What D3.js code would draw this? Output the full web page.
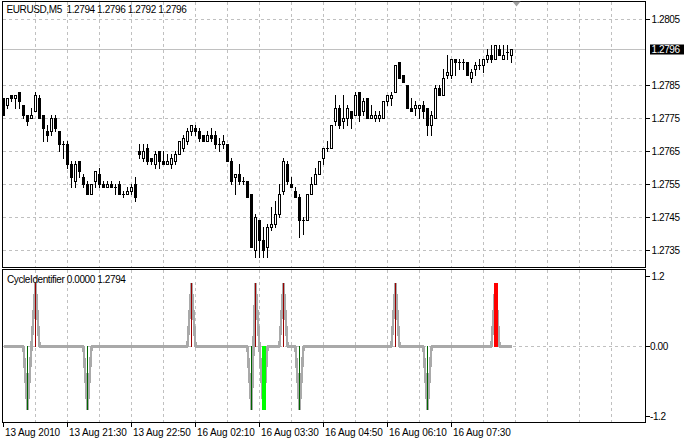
<!DOCTYPE html>
<html><head><meta charset="utf-8">
<script src="https://cdn.jsdelivr.net/npm/d3@7"></script>
<style>
html,body{margin:0;padding:0;background:#fff;}
svg{display:block;}
text{font-family:"Liberation Sans",Arial,sans-serif;font-size:10px;fill:#000;}
</style></head><body>
<svg id="chart" width="684" height="439"></svg>
<script>
// ---------- data ----------
const chartTitle = "EURUSD,M5";
const lastBar = ["1.2794", "1.2796", "1.2792", "1.2796"];
const indicatorTitle = "CycleIdentifier 0.0000 1.2794";
const bidPrice = 1.2796;

const opens = [1.2781,1.2779,1.2782,1.2781,1.2783,1.2779,1.2776,1.2775,1.2777,1.2781,
1.2776,1.2771,1.2771,1.2775,1.2771,1.2767,1.2767,1.2761,1.2756,1.2762,
1.2757,1.2755,1.2752,1.2756,1.2758,1.2755,1.2754,1.2755,1.2754,1.2755,
1.2752,1.2752,1.2753,1.2755,1.2765,1.2763,1.2766,1.2763,1.2761,1.2765,
1.2762,1.2761,1.2761,1.2762,1.2764,1.2766,1.2768,1.2771,1.2772,1.2771,
1.2770,1.2768,1.2770,1.2770,1.2767,1.2767,1.2767,1.2762,1.2757,1.2758,
1.2756,1.2756,1.2752,1.2735,1.2744,1.2738,1.2736,1.2742,1.2743,1.2746,
1.2753,1.2761,1.2755,1.2753,1.2751,1.2744,1.2744,1.2752,1.2755,1.2758,
1.2763,1.2766,1.2766,1.2774,1.2778,1.2774,1.2775,1.2777,1.2776,1.2783,
1.2777,1.2781,1.2775,1.2775,1.2775,1.2775,1.2780,1.2781,1.2783,1.2792,
1.2788,1.2785,1.2778,1.2778,1.2778,1.2779,1.2778,1.2773,1.2775,1.2784,
1.2782,1.2788,1.2788,1.2793,1.2792,1.2792,1.2792,1.2787,1.2790,1.2791,
1.2791,1.2793,1.2794,1.2793,1.2796,1.2793,1.2795,1.2794];

const highs = [1.2781,1.2781,1.2782,1.2782,1.2783,1.2779,1.2776,1.2778,1.2783,1.2782,
1.2776,1.2773,1.2776,1.2776,1.2771,1.2768,1.2768,1.2762,1.2762,1.2762,
1.2758,1.2756,1.2755,1.2759,1.2760,1.2756,1.2756,1.2756,1.2755,1.2756,
1.2753,1.2754,1.2755,1.2757,1.2767,1.2767,1.2767,1.2763,1.2765,1.2765,
1.2765,1.2764,1.2764,1.2765,1.2768,1.2770,1.2772,1.2773,1.2773,1.2772,
1.2770,1.2771,1.2772,1.2771,1.2769,1.2770,1.2767,1.2763,1.2758,1.2761,
1.2757,1.2756,1.2752,1.2746,1.2744,1.2742,1.2743,1.2748,1.2750,1.2755,
1.2763,1.2762,1.2757,1.2754,1.2752,1.2745,1.2752,1.2757,1.2760,1.2762,
1.2766,1.2768,1.2773,1.2782,1.2779,1.2782,1.2779,1.2777,1.2783,1.2783,
1.2781,1.2781,1.2779,1.2777,1.2777,1.2780,1.2782,1.2783,1.2791,1.2792,
1.2788,1.2785,1.2781,1.2780,1.2779,1.2780,1.2778,1.2777,1.2785,1.2785,
1.2790,1.2794,1.2793,1.2793,1.2793,1.2793,1.2792,1.2790,1.2792,1.2793,
1.2793,1.2796,1.2797,1.2797,1.2797,1.2797,1.2797,1.2796];

const lows = [1.2776,1.2778,1.2780,1.2778,1.2778,1.2775,1.2773,1.2775,1.2777,1.2775,
1.2768,1.2768,1.2770,1.2771,1.2765,1.2763,1.2760,1.2754,1.2754,1.2757,
1.2754,1.2752,1.2752,1.2754,1.2754,1.2754,1.2754,1.2754,1.2752,1.2752,
1.2751,1.2752,1.2752,1.2750,1.2763,1.2762,1.2761,1.2761,1.2760,1.2760,
1.2761,1.2761,1.2760,1.2761,1.2764,1.2765,1.2767,1.2770,1.2770,1.2768,
1.2768,1.2768,1.2768,1.2766,1.2765,1.2766,1.2762,1.2755,1.2752,1.2755,
1.2755,1.2751,1.2736,1.2733,1.2733,1.2733,1.2733,1.2741,1.2742,1.2745,
1.2752,1.2755,1.2754,1.2751,1.2739,1.2740,1.2744,1.2752,1.2755,1.2758,
1.2761,1.2765,1.2766,1.2773,1.2772,1.2772,1.2773,1.2772,1.2776,1.2774,
1.2776,1.2775,1.2775,1.2774,1.2774,1.2775,1.2779,1.2779,1.2783,1.2787,
1.2786,1.2778,1.2777,1.2776,1.2775,1.2775,1.2770,1.2770,1.2775,1.2782,
1.2782,1.2787,1.2787,1.2788,1.2790,1.2790,1.2788,1.2786,1.2788,1.2790,
1.2789,1.2792,1.2792,1.2793,1.2794,1.2793,1.2793,1.2792];

const closes = [1.2776,1.2781,1.2781,1.2782,1.2780,1.2776,1.2774,1.2776,1.2782,1.2775,
1.2772,1.2770,1.2775,1.2772,1.2767,1.2767,1.2761,1.2757,1.2761,1.2759,
1.2755,1.2752,1.2755,1.2759,1.2755,1.2754,1.2755,1.2754,1.2754,1.2752,
1.2752,1.2753,1.2754,1.2751,1.2764,1.2765,1.2762,1.2762,1.2764,1.2762,
1.2761,1.2762,1.2763,1.2764,1.2768,1.2769,1.2771,1.2773,1.2771,1.2769,
1.2768,1.2770,1.2769,1.2767,1.2767,1.2768,1.2762,1.2756,1.2758,1.2756,
1.2756,1.2751,1.2736,1.2745,1.2738,1.2735,1.2742,1.2743,1.2746,1.2752,
1.2762,1.2756,1.2754,1.2751,1.2744,1.2744,1.2752,1.2755,1.2758,1.2762,
1.2766,1.2766,1.2773,1.2778,1.2773,1.2775,1.2778,1.2775,1.2782,1.2776,
1.2780,1.2775,1.2776,1.2776,1.2776,1.2780,1.2782,1.2782,1.2791,1.2787,
1.2786,1.2778,1.2777,1.2779,1.2779,1.2777,1.2773,1.2776,1.2784,1.2782,
1.2787,1.2789,1.2793,1.2792,1.2792,1.2792,1.2788,1.2789,1.2791,1.2791,
1.2793,1.2794,1.2793,1.2797,1.2794,1.2794,1.2795,1.2796];

// CycleIdentifier line values (per bar)
const cycleLine = [
0,0,0,0,0,0,-1,0,1,0,0,0,0,0,0,0,
0,0,0,0,0,-1,0,0,0,0,0,0,0,0,0,0,
0,0,0,0,0,0,0,0,0,0,0,0,0,0,0,1,
0,0,0,0,0,0,0,0,0,0,0,0,0,0,-1,1,
0,-1,0,0,0,0,1,0,0,0,-1,0,0,0,0,0,
0,0,0,0,0,0,0,0,0,0,0,0,0,0,0,0,
0,0,1,0,0,0,0,0,0,0,-1,0,0,0,0,0,
0,0,0,0,0,0,0,0,0,0,0,1,0,0,0,0];
const minorUpBars = [8, 47, 63, 70, 98];
const minorDownBars = [6, 21, 62, 74, 106];
const majorUpBars = [123];
const majorDownBars = [65];

const priceTicks = [1.2805, 1.2785, 1.2775, 1.2765, 1.2755, 1.2745, 1.2735];
const indicatorTicks = [1.2, 0, -1.2];
const indicatorTickLabels = ["1.2", "0.00", "-1.2"];
const timeTickIndex = [0, 16, 32, 48, 64, 80, 96, 112];
const timeTickLabels = ["13 Aug 2010", "13 Aug 21:30", "13 Aug 22:50", "16 Aug 02:10",
  "16 Aug 03:30", "16 Aug 04:50", "16 Aug 06:10", "16 Aug 07:30"];

// ---------- layout ----------
const L = 2.5, R = 645.5, mainTop = 1.5, mainBot = 267.5, indTop = 269.5, indBot = 422.5;
const n = opens.length;
const svg = d3.select("#chart");

const x = d3.scaleLinear().domain([0, n - 1]).range([3.5, 3.5 + 4 * (n - 1)]);
const y = d3.scaleLinear().domain([1.2735, 1.2805]).range([250, 19]);
const yi = d3.scaleLinear().domain([-1.2, 1.2]).range([422, 270]);
const py = v => Math.round(y(v)) + 0.5;

svg.append("defs").append("clipPath").attr("id", "clipMain")
  .append("rect").attr("x", L).attr("y", mainTop).attr("width", R - L).attr("height", mainBot - mainTop);
svg.select("defs").append("clipPath").attr("id", "clipInd")
  .append("rect").attr("x", L).attr("y", indTop).attr("width", R - L).attr("height", indBot - indTop);

const gridIdx = d3.range(8, 160, 8);
const gridColor = "#c0c0c0";

// main grid
const gMain = svg.append("g").attr("clip-path", "url(#clipMain)");
gMain.selectAll("line.vg").data(gridIdx).join("line")
  .attr("x1", d => x(d)).attr("x2", d => x(d)).attr("y1", mainTop).attr("y2", mainBot)
  .attr("stroke", gridColor).attr("stroke-dasharray", "3,3").attr("shape-rendering", "crispEdges");
gMain.selectAll("line.hg").data(priceTicks).join("line")
  .attr("x1", L).attr("x2", R).attr("y1", d => py(d)).attr("y2", d => py(d))
  .attr("stroke", gridColor).attr("stroke-dasharray", "3,3").attr("shape-rendering", "crispEdges");
// bid line
gMain.append("line").attr("x1", L).attr("x2", R).attr("y1", py(bidPrice)).attr("y2", py(bidPrice))
  .attr("stroke", gridColor).attr("shape-rendering", "crispEdges");

// candles
const bars = d3.range(n).map(i => ({i, o: opens[i], h: highs[i], l: lows[i], c: closes[i]}));
const cg = gMain.selectAll("g.c").data(bars).join("g").attr("shape-rendering", "crispEdges");
cg.append("line").attr("x1", d => x(d.i)).attr("x2", d => x(d.i))
  .attr("y1", d => Math.round(y(d.h))).attr("y2", d => Math.round(y(d.l)) + 1)
  .attr("stroke", "#000");
cg.each(function(d) {
  const g = d3.select(this);
  const top = Math.round(y(Math.max(d.o, d.c))), bot = Math.round(y(Math.min(d.o, d.c)));
  if (d.c > d.o) {
    g.append("rect").attr("x", x(d.i) - 1).attr("y", top + 0.5).attr("width", 2).attr("height", Math.max(bot - top, 1))
      .attr("fill", "#fff").attr("stroke", "#000");
  } else {
    g.append("rect").attr("x", x(d.i) - 1.5).attr("y", top).attr("width", 3).attr("height", Math.max(bot - top, 0) + 1)
      .attr("fill", "#000");
  }
});

// indicator grid
const gInd = svg.append("g").attr("clip-path", "url(#clipInd)");
gInd.selectAll("line.vg").data(gridIdx).join("line")
  .attr("x1", d => x(d)).attr("x2", d => x(d)).attr("y1", indTop).attr("y2", indBot)
  .attr("stroke", gridColor).attr("stroke-dasharray", "3,3").attr("shape-rendering", "crispEdges");
gInd.append("line").attr("x1", L).attr("x2", R).attr("y1", yi(0) + 0.5).attr("y2", yi(0) + 0.5)
  .attr("stroke", gridColor).attr("stroke-dasharray", "3,3").attr("shape-rendering", "crispEdges");

// indicator line
gInd.append("path").datum(cycleLine)
  .attr("d", d3.line().x((d, i) => x(i)).y(d => yi(d) + 0.5))
  .attr("fill", "none").attr("stroke", "#a9a9a9").attr("stroke-width", 2.6)
  .attr("stroke-linejoin", "bevel").attr("shape-rendering", "crispEdges");

function hist(list, color, w) {
  gInd.append("g").selectAll("rect").data(list).join("rect")
    .attr("x", d => x(d) - w / 2).attr("width", w)
    .attr("y", d => Math.min(yi(cycleLine[d]), yi(0)))
    .attr("height", d => Math.abs(yi(cycleLine[d]) - yi(0)) + 1)
    .attr("fill", color).attr("shape-rendering", "crispEdges");
}
hist(minorUpBars, "#9b0000", 1);
hist(minorDownBars, "#006400", 1);
hist(majorUpBars, "#ff0000", 4);
hist(majorDownBars, "#00ff00", 4);

// frames
svg.append("rect").attr("x", L).attr("y", mainTop).attr("width", R - L).attr("height", mainBot - mainTop)
  .attr("fill", "none").attr("stroke", "#000").attr("shape-rendering", "crispEdges");
svg.append("rect").attr("x", L).attr("y", indTop).attr("width", R - L).attr("height", indBot - indTop)
  .attr("fill", "none").attr("stroke", "#000").attr("shape-rendering", "crispEdges");

// price axis
const pAxis = svg.append("g").attr("transform", `translate(${R},0)`)
  .call(d3.axisRight(y).tickValues(priceTicks).tickFormat(d3.format(".4f")).tickSize(4).tickPadding(2));
pAxis.select(".domain").remove();
pAxis.selectAll("line").attr("shape-rendering", "crispEdges");
pAxis.selectAll("text").attr("font-family", "Liberation Sans, Arial, sans-serif").attr("font-size", 10)
  .attr("letter-spacing", "-0.4px");

// bid label
svg.append("rect").attr("x", 650).attr("y", Math.round(y(bidPrice)) - 4.5).attr("width", 34).attr("height", 10).attr("fill", "#000");
svg.append("text").attr("x", 651.5).attr("y", Math.round(y(bidPrice)) + 4)
  .attr("fill", "#fff").style("fill", "#fff").attr("letter-spacing", "-0.4px").text(d3.format(".4f")(bidPrice));

// indicator axis
const iAxis = svg.append("g").attr("transform", `translate(${R},0)`);
const iOff = [6, 0, -6];
iAxis.selectAll("line").data(indicatorTicks).join("line")
  .attr("x1", 0).attr("x2", 4).attr("y1", (d, i) => yi(d) + iOff[i] + 0.5).attr("y2", (d, i) => yi(d) + iOff[i] + 0.5)
  .attr("stroke", "#000").attr("shape-rendering", "crispEdges");
iAxis.selectAll("text").data(indicatorTicks).join("text")
  .attr("x", (d, i) => i === 0 ? 6 : 4.5).attr("y", (d, i) => yi(d) + iOff[i] + 4)
  .attr("letter-spacing", "-0.4px").text((d, i) => indicatorTickLabels[i]);

// time axis
const tAxis = svg.append("g").attr("transform", `translate(0,${indBot})`)
  .call(d3.axisBottom(x).tickValues(timeTickIndex).tickFormat((d, i) => timeTickLabels[i]).tickSize(4));
tAxis.select(".domain").remove();
tAxis.selectAll("line").attr("shape-rendering", "crispEdges").attr("transform", "translate(-0.5,0)");
tAxis.selectAll("text").attr("text-anchor", "start").attr("x", 1).attr("dy", null).attr("y", 13.5)
  .attr("font-family", "Liberation Sans, Arial, sans-serif").attr("font-size", 10).attr("letter-spacing", "-0.1px");

// titles
svg.append("text").attr("x", 6.5).attr("y", 13).attr("letter-spacing", "-0.4px").attr("xml:space", "preserve")
  .text(chartTitle + "  " + lastBar.join(" "));
svg.append("text").attr("x", 7).attr("y", 283).attr("letter-spacing", "-0.4px").text(indicatorTitle);

// chart shift marker
const sx = x(n) + 1;
svg.append("path").attr("d", `M${sx - 4},1.5 L${sx + 4},1.5 L${sx},6.5 Z`).attr("fill", "#a0a0a0");
</script>
</body></html>
